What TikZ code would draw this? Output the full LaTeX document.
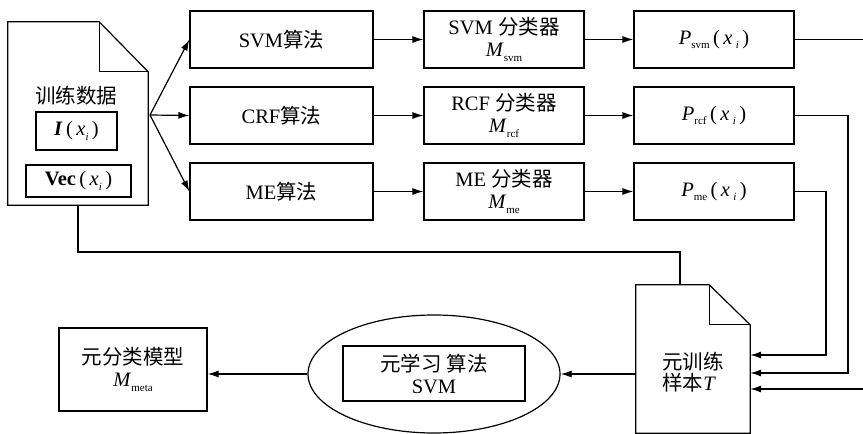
\documentclass[tikz,border=0pt]{standalone}
\usepackage{fontspec}
\setmainfont{Liberation Serif}
\newfontfamily\cjk{Noto Sans CJK SC}
\usetikzlibrary{shapes.geometric,arrows.meta,calc}
\newcommand\lowsub[1]{\raisebox{-0.45ex}{\fontsize{11}{11}\selectfont #1}}
\tikzset{
  box/.style={draw,line width=1.2pt,minimum width=#1,inner sep=0pt,align=center},
  arr/.style={line width=1.2pt,-{Latex[length=11pt,width=7pt]}},
  ln/.style={line width=1.2pt},
  txt/.style={font=\fontsize{20.5}{23}\selectfont}
}
\begin{document}
\begin{tikzpicture}[x=1pt,y=-1pt,txt]
\useasboundingbox (0,0) rectangle (863,434);
% data document
\node[minimum width=140pt,minimum height=183pt,inner sep=0pt] (data) at (78,113.5) {};
\draw[ln] (data.north west) -- ($(data.north east)+(-49,0)$) -- ($(data.north east)+(0,50)$) -- (data.south east) -- (data.south west) -- cycle;
\draw[ln] ($(data.north east)+(-49,0)$) -- ($(data.north east)+(-49,50)$) -- ($(data.north east)+(0,50)$);
\node (dt) at (76,96) {\cjk 训练数据};
\node[box=81pt,minimum height=38pt] (ib) at (76.5,131) {\textbf{\textit{I}}\,(\,\textit{x}\lowsub{\textit{i}}\,)};
\node[box=105pt,minimum height=32pt] (vb) at (78.5,181) {\textbf{Vec}\,(\,\textit{x}\lowsub{\textit{i}}\,)};
\coordinate (dsrc) at (150,115);
% row boxes
\node[box=183pt,minimum height=57pt] (a1) at (281.5,39.5) {SVM{\cjk 算法}};
\node[box=183pt,minimum height=57pt] (a2) at (281.5,115.5) {CRF{\cjk 算法}};
\node[box=183pt,minimum height=57pt] (a3) at (281.5,191.5) {ME{\cjk 算法}};
\node[box=160pt,minimum height=57pt] (c1) at (504,39.5) {SVM {\cjk 分类器}\\[-1pt]\textit{M}\lowsub{svm}};
\node[box=160pt,minimum height=57pt] (c2) at (504,115.5) {RCF {\cjk 分类器}\\[-1pt]\textit{M}\lowsub{rcf}};
\node[box=160pt,minimum height=57pt] (c3) at (504,191.5) {ME {\cjk 分类器}\\[-1pt]\textit{M}\lowsub{me}};
\node[box=160pt,minimum height=57pt] (p1) at (714,39.5) {\textit{P}\lowsub{svm}\,(\,\textit{x}\,\lowsub{\textit{i}}\,)};
\node[box=160pt,minimum height=57pt] (p2) at (714,115.5) {\textit{P}\lowsub{rcf}\,(\,\textit{x}\,\lowsub{\textit{i}}\,)};
\node[box=160pt,minimum height=57pt] (p3) at (714,191.5) {\textit{P}\lowsub{me}\,(\,\textit{x}\,\lowsub{\textit{i}}\,)};
\draw[arr] (dsrc) -- (a1.west);
\draw[arr] (dsrc) -- (a2.west);
\draw[arr] (dsrc) -- (a3.west);
\foreach \i in {1,2,3}{
  \draw[arr] (a\i.east) -- (c\i.west);
  \draw[arr] (c\i.east) -- (p\i.west);
}
% T document
\node[minimum width=114pt,minimum height=148pt,inner sep=0pt] (T) at (693,359) {};
\draw[ln] (T.north west) -- ($(T.north east)+(-41,0)$) -- ($(T.north east)+(0,40)$) -- (T.south east) -- (T.south west) -- cycle;
\draw[ln] ($(T.north east)+(-41,0)$) -- ($(T.north east)+(-41,40)$) -- ($(T.north east)+(0,40)$);
\node[align=left] (tt) at (693,372) {{\cjk 元训练}\\[-2pt]{\cjk 样本}\textit{T}};
% feedback lines into T
\coordinate (r1) at (870,39.5);
\coordinate (r3) at (870,389);
\draw[ln] (p1.east) -- (r1) -- (r3);
\draw[arr] (r3) -- (r3 -| T.east);
\draw[arr] (p2.east) -- (848,115.5) |- (T.east |- 0,373);
\draw[arr] (p3.east) -- (826,191.5) |- (T.east |- 0,355);
% line from data doc to T
\coordinate (k1) at (680,252);
\draw[ln] (data.south) |- (k1) -- (k1 |- T.north);
% ellipse
\node[draw,ellipse,line width=1.2pt,minimum width=252pt,minimum height=118pt,inner sep=0pt] (ell) at (434,374) {};
\node[box=182pt,minimum height=55pt] (ml) at (434,373.5) {{\cjk 元学习 算法}\\[-1pt]SVM};
\node[box=148pt,minimum height=83pt] (meta) at (133,369.5) {{\cjk 元分类模型}\\[-1pt]\textit{M}\lowsub{meta}};
\draw[arr] (ell.east -| T.west) -- (ell.east);
\draw[arr] (ell.west) -- (ell.west -| meta.east);
\end{tikzpicture}
\end{document}
